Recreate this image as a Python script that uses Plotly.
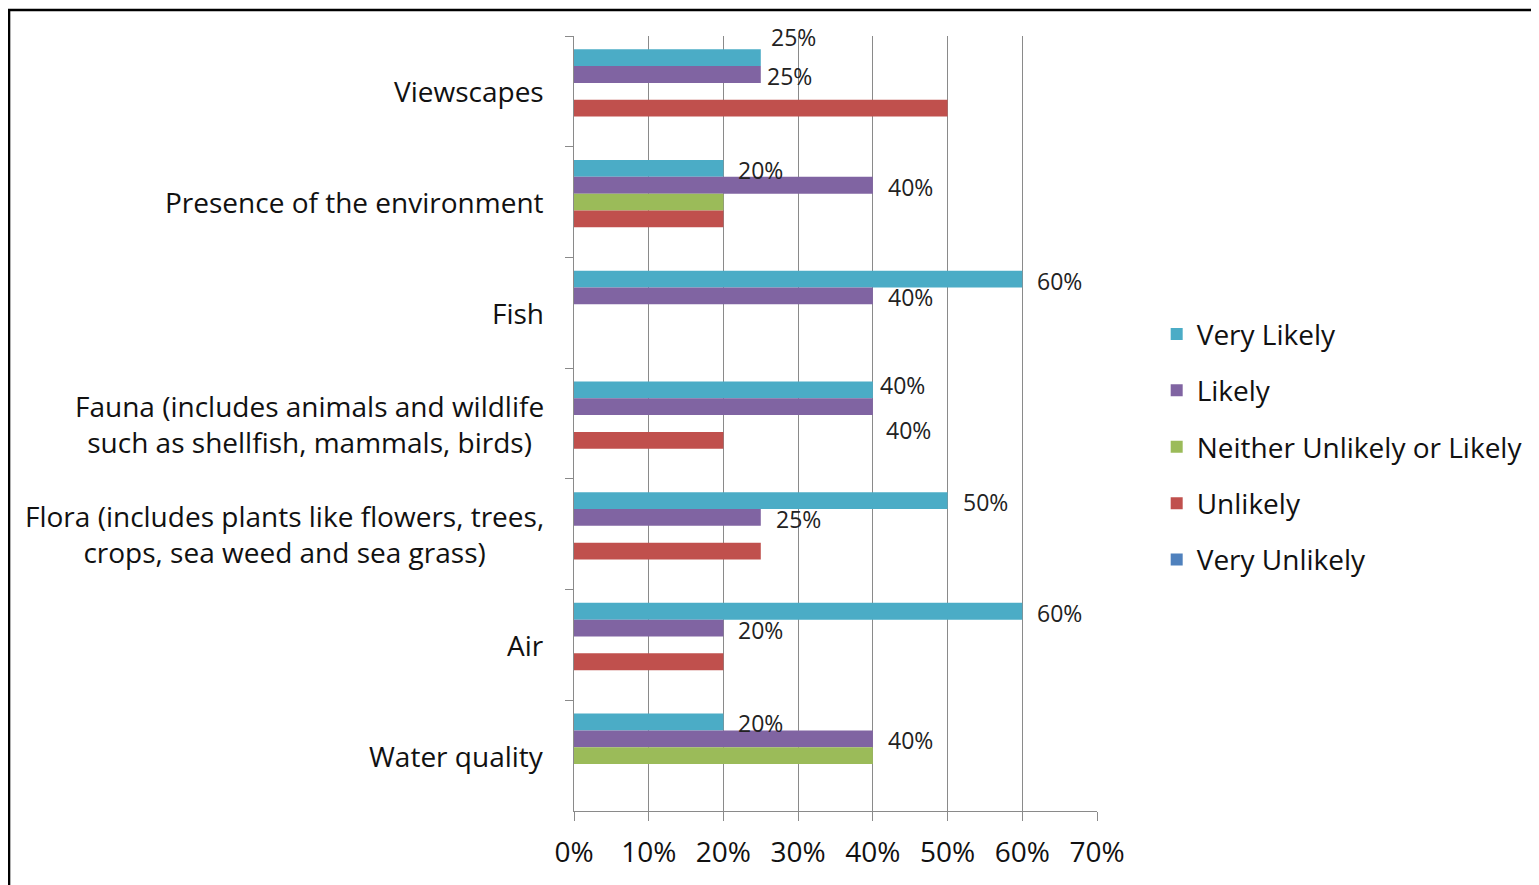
import plotly.graph_objects as go

categories = [
    "Viewscapes",
    "Presence of the environment",
    "Fish",
    "Fauna (includes animals and wildlife<br>such as shellfish, mammals, birds)",
    "Flora (includes plants like flowers, trees,<br>crops, sea weed and sea grass)",
    "Air",
    "Water quality",
]
series_names = ["Very Likely", "Likely", "Neither Unlikely or Likely", "Unlikely", "Very Unlikely"]
very_likely = [0.25, 0.20, 0.60, 0.40, 0.50, 0.60, 0.20]
likely = [0.25, 0.40, 0.40, 0.40, 0.25, 0.20, 0.40]
neither = [0, 0.20, 0, 0, 0, 0, 0.40]
unlikely = [0.50, 0.20, 0, 0.20, 0.25, 0.20, 0]
very_unlikely = [0, 0, 0, 0, 0, 0, 0]
tick_vals = [0, 0.1, 0.2, 0.3, 0.4, 0.5, 0.6, 0.7]

colors = ["#4BACC6", "#8064A2", "#9BBB59", "#C0504D", "#4F81BD"]
FONT = "Open Sans"
BARGAP = 0.24

# labelled series and manual nudges (px) that mimic the original label placement
labelled = {0: very_likely, 1: likely}
nudges = {(0, 0): (-5, 21), (0, 1): (-9, -1), (3, 0): (-8, 5), (3, 1): (-2, -23)}

fig = go.Figure()
for i, (name, vals) in enumerate(zip(series_names,
                                     [very_likely, likely, neither, unlikely, very_unlikely])):
    fig.add_trace(go.Bar(
        y=categories, x=vals, name=name, orientation="h",
        marker=dict(color=colors[i], line=dict(width=0)),
        legendgroup=name,
    ))

slot = (1 - BARGAP) / 5
annotations = []
for s, vals in labelled.items():
    for c, v in enumerate(vals):
        dx, dy = nudges.get((c, s), (0, -1.5))
        annotations.append(dict(
            x=v, y=c + (s - 2) * slot, xref="x", yref="y",
            text=f"{round(v * 100)}%", showarrow=False, xanchor="left",
            xshift=13 + dx, yshift=dy,
            font=dict(family=FONT, size=23, color="#222"),
        ))

for c, cat in enumerate(categories):
    annotations.append(dict(
        x=-0.053, y=c, xref="paper", yref="y", text=cat, showarrow=False,
        xanchor="right", align="center",
        font=dict(family=FONT, size=28, color="#111"),
    ))

# the page adds an 8px body margin, so the canvas is trimmed by that amount
fig.update_layout(
    width=1531, height=877,
    margin=dict(l=566, r=441, t=28, b=74),
    paper_bgcolor="white", plot_bgcolor="white",
    barmode="group", bargap=BARGAP, bargroupgap=0,
    font=dict(family=FONT, color="#111"),
    annotations=annotations,
    legend=dict(
        x=1.112, y=0.47, xanchor="left", yanchor="middle",
        font=dict(family=FONT, size=28, color="#111"),
        tracegroupgap=17, traceorder="grouped",
    ),
    shapes=[dict(type="rect", xref="paper", yref="paper",
                 x0=-1.0802, x1=1.9, y0=-0.3, y1=1.0335,
                 line=dict(color="black", width=2.5))],
)
fig.update_xaxes(
    range=[0, 0.7], tickvals=tick_vals, tickformat=".0%",
    showgrid=True, gridcolor="#8a8a8a", gridwidth=1,
    showline=True, linecolor="#8a8a8a", linewidth=1,
    ticks="outside", ticklen=9, tickcolor="#8a8a8a",
    tickfont=dict(family=FONT, size=28, color="#111"),
    ticklabelstandoff=7,
    zeroline=False,
)
fig.update_yaxes(
    autorange="reversed", showticklabels=False,
    showline=True, linecolor="#8a8a8a", linewidth=1,
    ticks="outside", ticklen=8, tickcolor="#8a8a8a", tickson="boundaries",
    showgrid=False,
)

fig.write_html("out.html")
